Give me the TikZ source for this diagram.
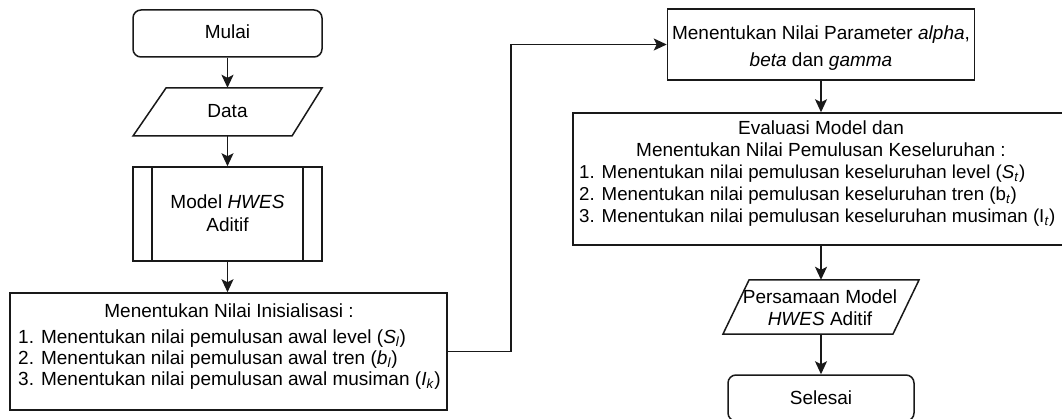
\documentclass[tikz,border=0pt]{standalone}
\usepackage{fontspec}
\setmainfont{Liberation Sans}
\usetikzlibrary{arrows.meta}
\begin{document}
\begin{tikzpicture}[x=1pt,y=-1pt,
  line/.style={line width=1.5pt, draw=black!90},
  box/.style={line, rectangle, inner sep=0pt},
  rbox/.style={box, rounded corners=8pt},
  ghost/.style={rectangle, inner sep=0pt},
  txt/.style={inner sep=0pt, font=\fontsize{19}{22}\selectfont, text=black, anchor=base},
  ltxt/.style={txt, anchor=base west},
  etxt/.style={ltxt, font=\fontsize{18.7}{22}\selectfont},
  arr/.style={line, -{Stealth[length=13pt,width=12pt,inset=3pt]}}]

\useasboundingbox (0,0) rectangle (1062,419);

% ---------- left column ----------
\node[rbox, minimum width=189pt, minimum height=47pt] (mulai) at (227.5,33.5) {};
\node[txt] (tmulai) at (227.5,39) {Mulai};

\node[ghost, minimum width=189pt, minimum height=48pt] (data) at (227.5,112) {};
\draw[line] (166,88) -- (322,88) -- (292,136) -- (133,136) -- cycle;
\node[txt] (tdata) at (227.5,118) {Data};

\node[box, minimum width=189pt, minimum height=94pt] (model) at (227.5,214) {};
\draw[line] (152,167) -- (152,261) (303,167) -- (303,261);
\node[txt] (tmodel1) at (227.5,209) {Model \textit{HWES}};
\node[txt] (tmodel2) at (227.5,232) {Aditif};

\node[box, minimum width=437pt, minimum height=117pt] (init) at (228.5,351.5) {};
\node[txt] (ih) at (229,318) {Menentukan Nilai Inisialisasi :};
\node[ltxt] (i1) at (18,343) {1. Menentukan nilai pemulusan awal level (\textit{S}\textsubscript{\textit{l}})};
\node[ltxt] (i2) at (18,364) {2. Menentukan nilai pemulusan awal tren (\textit{b}\textsubscript{\textit{l}})};
\node[ltxt] (i3) at (18,385) {3. Menentukan nilai pemulusan awal musiman (\textit{I}\textsubscript{\textit{k}})};

% ---------- right column ----------
\node[box, minimum width=307pt, minimum height=71pt] (param) at (821,44.5) {};
\node[txt] (p1) at (821,40) {Menentukan Nilai Parameter \textit{alpha},};
\node[txt] (p2) at (821,67) {\textit{beta} dan \textit{gamma}};

\node[box, minimum width=496pt, minimum height=132pt] (eval) at (821,179) {};
\node[txt] (eh1) at (821,135) {Evaluasi Model dan};
\node[txt] (eh2) at (821,157) {Menentukan Nilai Pemulusan Keseluruhan :};
\node[etxt] (e1) at (579,179) {1. Menentukan nilai pemulusan keseluruhan level (\textit{S}\textsubscript{\textit{t}})};
\node[etxt] (e2) at (579,201) {2. Menentukan nilai pemulusan keseluruhan tren (b\textsubscript{\textit{t}})};
\node[etxt] (e3) at (579,223) {3. Menentukan nilai pemulusan keseluruhan musiman (I\textsubscript{\textit{t}})};

\node[ghost, minimum width=170pt, minimum height=54pt] (pers) at (821,307) {};
\draw[line] (749,280) -- (919,280) -- (893,334) -- (723,334) -- cycle;
\node[txt] (ps1) at (820,304) {Persamaan Model};
\node[txt] (ps2) at (820,326) {\textit{HWES} Aditif};

\node[rbox, minimum width=186pt, minimum height=46pt] (selesai) at (821,398) {};
\node[txt] (tsel) at (821,404.5) {Selesai};

% ---------- connectors ----------
\draw[arr] (mulai.south) -- (mulai.south |- data.north);
\draw[arr] (data.south) -- (data.south |- model.north);
\draw[arr] (model.south) -- (model.south |- init.north);
\draw[arr] (init.east) -- ++(63,0) |- (param.west);
\draw[arr] (param.south) -- (param.south |- eval.north);
\draw[arr] (eval.south) -- (eval.south |- pers.north);
\draw[arr] (pers.south) -- (pers.south |- selesai.north);
\end{tikzpicture}
\end{document}
